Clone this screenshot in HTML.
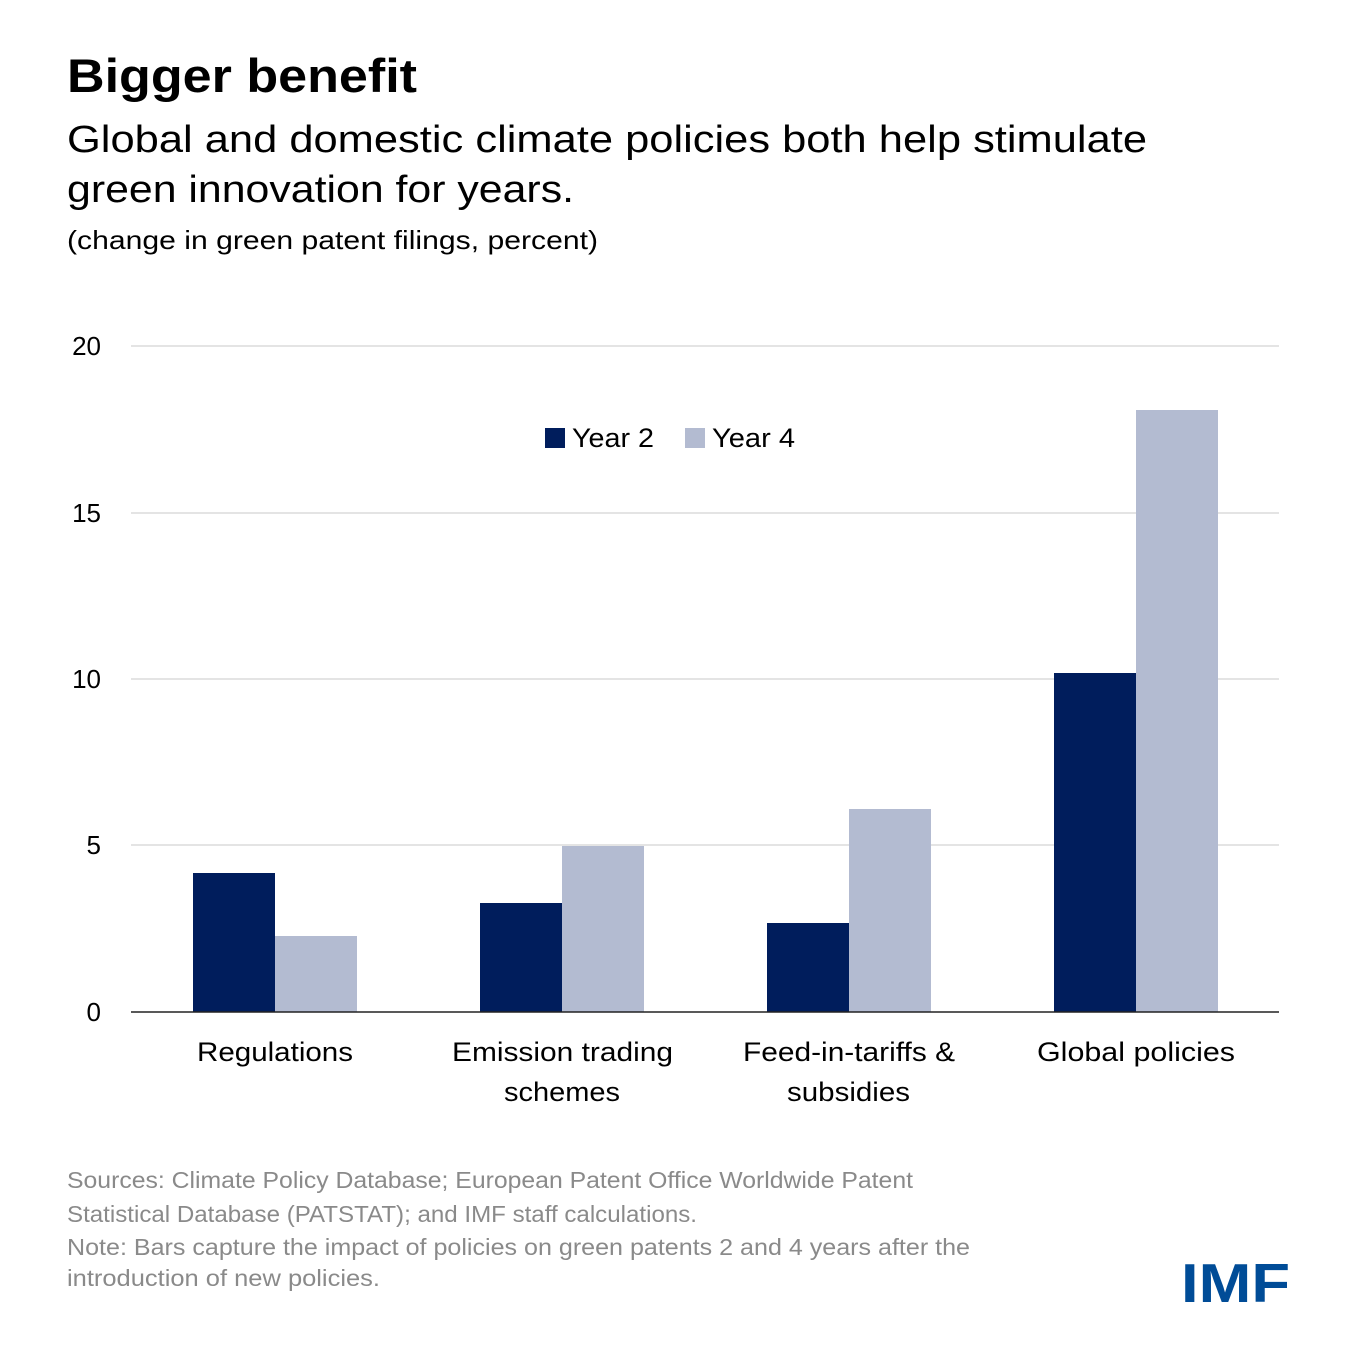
<!DOCTYPE html>
<html><head><meta charset="utf-8"><style>
body{margin:0;background:#fff;}
#c{position:relative;width:1355px;height:1355px;overflow:hidden;}
</style></head><body><div id="c">
<svg width="1355" height="1355" font-family="Liberation Sans, sans-serif" style="position:absolute;left:0;top:0">
<text x="67" y="92" font-size="47" font-weight="bold" textLength="350" lengthAdjust="spacingAndGlyphs">Bigger benefit</text>
<text x="67" y="152" font-size="38" textLength="1080" lengthAdjust="spacingAndGlyphs">Global and domestic climate policies both help stimulate</text>
<text x="67" y="202" font-size="38" textLength="507" lengthAdjust="spacingAndGlyphs">green innovation for years.</text>
<text x="67" y="249" font-size="26" textLength="531" lengthAdjust="spacingAndGlyphs">(change in green patent filings, percent)</text>
<g stroke="#dcdcdc" stroke-width="1.5">
<line x1="131" x2="1279" y1="346" y2="346"/><line x1="131" x2="1279" y1="513" y2="513"/><line x1="131" x2="1279" y1="679" y2="679"/><line x1="131" x2="1279" y1="845" y2="845"/>
</g>
<g font-size="26" text-anchor="end" fill="#000">
<text x="101" y="355">20</text><text x="101" y="522">15</text><text x="101" y="688">10</text><text x="101" y="854">5</text><text x="101" y="1021">0</text>
</g>
<g fill="#001d5c">
<rect x="193" y="873" width="82" height="139"/><rect x="480" y="903" width="82" height="109"/><rect x="767" y="923" width="82" height="89"/><rect x="1054" y="673" width="82" height="339"/>
</g>
<g fill="#b3bbd1">
<rect x="275" y="936" width="82" height="76"/><rect x="562" y="846" width="82" height="166"/><rect x="849" y="809" width="82" height="203"/><rect x="1136" y="410" width="82" height="602"/>
</g>
<line x1="131" x2="1279" y1="1012" y2="1012" stroke="#222" stroke-width="1.5"/>
<rect x="545" y="428" width="20" height="20" fill="#001d5c"/><text x="572" y="447" font-size="27" textLength="82" lengthAdjust="spacingAndGlyphs">Year 2</text>
<rect x="685" y="428" width="20" height="20" fill="#b3bbd1"/><text x="712" y="447" font-size="27" textLength="83" lengthAdjust="spacingAndGlyphs">Year 4</text>
<g font-size="27" lengthAdjust="spacingAndGlyphs">
<text x="197" y="1061" textLength="156" lengthAdjust="spacingAndGlyphs">Regulations</text>
<text x="452" y="1061" textLength="221" lengthAdjust="spacingAndGlyphs">Emission trading</text>
<text x="504" y="1101" textLength="116" lengthAdjust="spacingAndGlyphs">schemes</text>
<text x="743" y="1061" textLength="212" lengthAdjust="spacingAndGlyphs">Feed-in-tariffs &amp;</text>
<text x="787" y="1101" textLength="123" lengthAdjust="spacingAndGlyphs">subsidies</text>
<text x="1037" y="1061" textLength="198" lengthAdjust="spacingAndGlyphs">Global policies</text>
</g>
<g font-size="23" fill="#8a8a8a">
<text x="67" y="1188" textLength="846" lengthAdjust="spacingAndGlyphs">Sources: Climate Policy Database; European Patent Office Worldwide Patent</text>
<text x="67" y="1222" textLength="630" lengthAdjust="spacingAndGlyphs">Statistical Database (PATSTAT); and IMF staff calculations.</text>
<text x="67" y="1255" textLength="903" lengthAdjust="spacingAndGlyphs">Note: Bars capture the impact of policies on green patents 2 and 4  years after the</text>
<text x="67" y="1286" textLength="313" lengthAdjust="spacingAndGlyphs">introduction of new policies.</text>
</g>
<text x="1181" y="1302" font-size="55" font-weight="bold" fill="#004c97" textLength="109" lengthAdjust="spacingAndGlyphs">IMF</text>
</svg>
</div></body></html>
